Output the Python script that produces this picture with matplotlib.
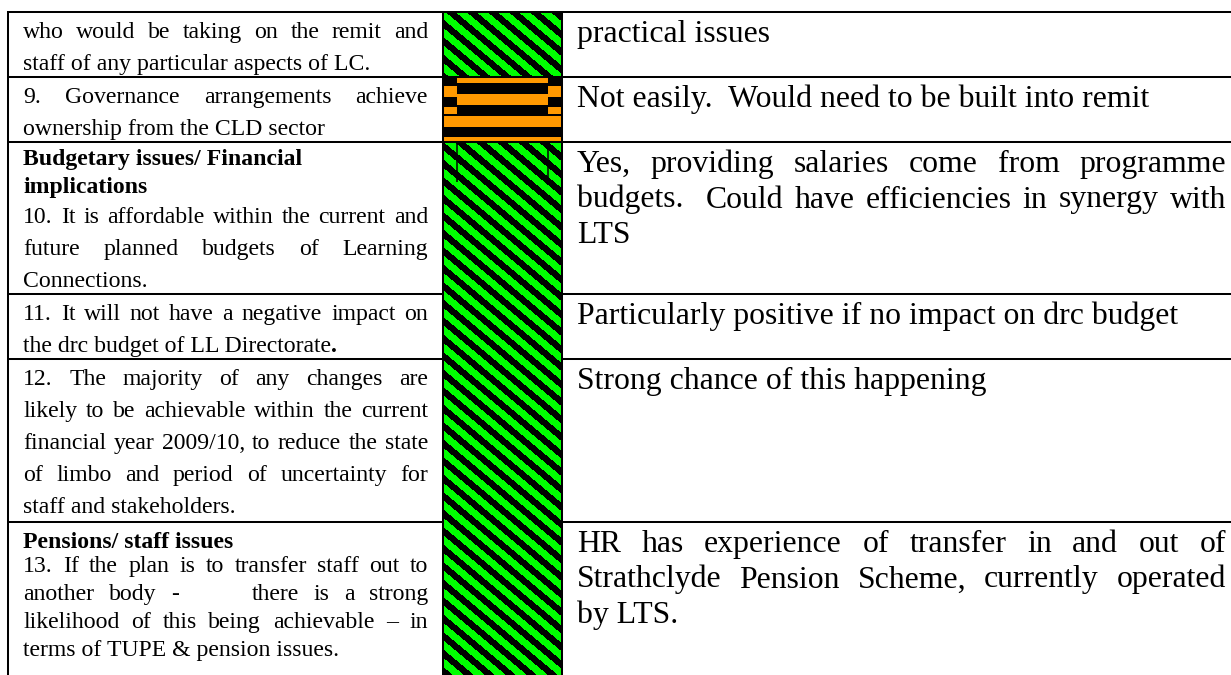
import re
import numpy as np
import matplotlib
matplotlib.use("Agg")
import matplotlib.pyplot as plt
from matplotlib.patches import Rectangle

# ---------------- data ----------------
ratings = ["green", "amber", "green", "green", "green", "green"]

criteria = [
    [("who would be taking on the remit and", "normal", True),
     ("staff of any particular aspects of LC.", "normal", False)],
    [("9. Governance arrangements achieve", "normal", True),
     ("ownership from the CLD sector", "normal", False)],
    [("Budgetary issues/ Financial", "bold", False),
     ("implications", "bold", False),
     ("10. It is affordable within the current and", "normal", True),
     ("future planned budgets of Learning", "normal", True),
     ("Connections.", "normal", False)],
    [("11. It will not have a negative impact on", "normal", True),
     ("the drc budget of LL Directorate", "normal", False)],
    [("12. The majority of any changes are", "normal", True),
     ("likely to be achievable within the current", "normal", True),
     ("financial year 2009/10, to reduce the state", "normal", True),
     ("of limbo and period of uncertainty for", "normal", True),
     ("staff and stakeholders.", "normal", False)],
    [("Pensions/ staff issues", "bold", False),
     ("13. If the plan is to transfer staff out to", "normal", True),
     ("another body -     there is a strong", "normal", True),
     ("likelihood of this being achievable \u2013 in", "normal", True),
     ("terms of TUPE & pension issues.", "normal", False)],
]

comments = [
    ["practical issues"],
    ["Not easily.  Would need to be built into remit"],
    ["Yes, providing salaries come from programme",
     "budgets.  Could have efficiencies in synergy with",
     "LTS"],
    ["Particularly positive if no impact on drc budget"],
    ["Strong chance of this happening"],
    ["HR has experience of transfer in and out of",
     "Strathclyde Pension Scheme, currently operated",
     "by LTS."],
]

# ---------------- layout ----------------
W, H = 1231, 675
row_tops = [12, 77, 142, 294, 359, 522]
left_baselines = [[38, 70], [103, 135], [165, 193, 223, 255, 287],
                  [320, 352], [385, 417, 449, 481, 513],
                  [548, 572, 600, 628, 656]]
X_LEFT = 8
X_C1 = 443
X_C2 = 562
LT0, LT1 = 23, 428
RT0, RT1 = 577, 1226
LSIZE = 17.1
RSIZE = 22.9
R_OFFSET = 30
R_SPACING = 35.5
SERIF = "Liberation Serif"
GREEN = (0.0, 1.0, 0.0)
ORANGE = "#FF9900"
LW = 1.45

fig = plt.figure(figsize=(W / 100, H / 100), dpi=100)
ax = fig.add_axes([0, 0, 1, 1])
fig.patch.set_facecolor("white")
renderer = fig.canvas.get_renderer()


def measure(s, size, weight):
    t = ax.text(0, 0, s, fontsize=size, family=SERIF, weight=weight)
    w = t.get_window_extent(renderer).width
    t.remove()
    return w


def draw_line(x0, x1, y, s, size, weight="normal", justify=False):
    kw = dict(fontsize=size, family=SERIF, weight=weight, va="baseline",
              color="black", zorder=5)
    if not justify:
        ax.text(x0, y, s, ha="left", **kw)
        return
    parts = re.split(r"( +)", s)
    words = parts[0::2]
    gaps = [len(g) for g in parts[1::2]]
    widths = [measure(w, size, weight) for w in words]
    unit = (x1 - x0 - sum(widths)) / sum(gaps)
    x = x0
    for i, w in enumerate(words):
        if i == len(words) - 1:
            ax.text(x1, y, w, ha="right", **kw)
        else:
            ax.text(x, y, w, ha="left", **kw)
            x += widths[i] + unit * gaps[i]


# ---------------- rating column ----------------
PH, PV, FRAC = 21.0, 17.5, 0.52


def stripes(x0, x1, y0, y1):
    xs = np.arange(x0, x1) + 0.5
    ys = np.arange(y0, y1) + 0.5
    X, Y = np.meshgrid(xs, ys)
    phase = (X / PH - Y / PV) % 1.0
    img = np.zeros(X.shape + (3,))
    img[phase < FRAC] = GREEN
    ax.imshow(img, extent=(x0, x1, y1, y0), interpolation="nearest",
              zorder=1, aspect="auto")


row_bottoms = row_tops[1:] + [H]
MID0, MID1 = 457, 548
ORANGE_BANDS = [(0.7, 5.7, "mid"), (9.0, 19.7, "side"), (17.3, 28.0, "mid"),
                (29.7, 37.0, "side"), (38.7, 49.7, "full"), (60.3, 63.7, "full")]

i = 0
while i < len(ratings):
    if ratings[i] == "green":
        j = i
        while j + 1 < len(ratings) and ratings[j + 1] == "green":
            j += 1
        stripes(X_C1, X_C2, row_tops[i], row_bottoms[j])
        i = j + 1
    else:
        top, bot = row_tops[i], row_bottoms[i]
        ax.add_patch(Rectangle((X_C1, top), X_C2 - X_C1, bot - top,
                               facecolor="black", edgecolor="none", zorder=1))
        for a, b, part in ORANGE_BANDS:
            if part == "mid":
                spans = [(MID0, MID1)]
            elif part == "side":
                spans = [(X_C1, MID0), (MID1, X_C2)]
            else:
                spans = [(X_C1, X_C2)]
            for s0, s1 in spans:
                ax.add_patch(Rectangle((s0, top + a), s1 - s0, b - a,
                                       facecolor=ORANGE, edgecolor="none",
                                       zorder=2))
        i += 1

# small vertical artefacts at the top of the budget row
for xv in (MID0, MID1):
    ax.plot([xv, xv], [row_tops[2], row_tops[2] + 40], color="black",
            lw=1.1, zorder=3, solid_capstyle="butt")

# ---------------- table rules ----------------
for k, y in enumerate(row_tops):
    if k <= 2:
        ax.plot([X_LEFT - 1, W], [y, y], color="black", lw=LW, zorder=4,
                solid_capstyle="butt")
    else:
        ax.plot([X_LEFT - 1, X_C1], [y, y], color="black", lw=LW, zorder=4,
                solid_capstyle="butt")
        ax.plot([X_C2, W], [y, y], color="black", lw=LW, zorder=4,
                solid_capstyle="butt")
for xv in (X_LEFT, X_C1, X_C2):
    ax.plot([xv, xv], [row_tops[0] - 1, H], color="black", lw=LW, zorder=4,
            solid_capstyle="butt")

# ---------------- text ----------------
for r, lines in enumerate(criteria):
    for (s, wt, just), yb in zip(lines, left_baselines[r]):
        draw_line(LT0, LT1, yb, s, LSIZE, wt, just)
# bold full stop after "Directorate"
wdir = measure(criteria[3][1][0], LSIZE, "normal")
ax.text(LT0 + wdir, left_baselines[3][1], ".", fontsize=LSIZE, family=SERIF,
        weight="bold", va="baseline", ha="left", zorder=5)

for r, lines in enumerate(comments):
    for k, s in enumerate(lines):
        yb = row_tops[r] + R_OFFSET + k * R_SPACING
        just = len(lines) > 1 and k < len(lines) - 1
        draw_line(RT0, RT1, yb, s, RSIZE, "normal", just)

ax.set_xlim(0, W)
ax.set_ylim(H, 0)
ax.axis("off")
fig.savefig("out.png", dpi=100, facecolor="white")
